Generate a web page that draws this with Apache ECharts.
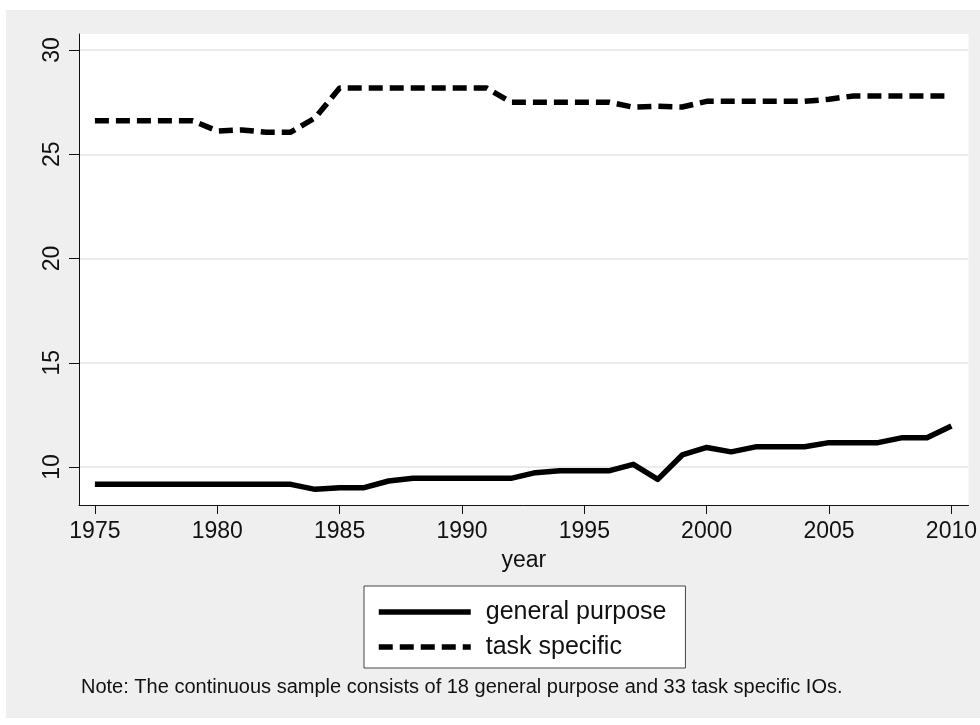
<!DOCTYPE html>
<html>
<head>
<meta charset="utf-8">
<script src="https://cdn.jsdelivr.net/npm/echarts@6/dist/echarts.min.js"></script>
<style>
  body { margin: 0; background: #fff; }
  #bg { position: absolute; left: 6px; top: 10px; width: 974px; height: 708px; background: #efefef; }
  #main { position: absolute; left: 0; top: 0; width: 980px; height: 725px; }
</style>
</head>
<body>
<div id="bg"></div>
<div id="main"></div>
<script>
const years = [];
for (let y = 1975; y <= 2010; y++) years.push(y);

const generalPurpose = [
  9.17, 9.17, 9.17, 9.17, 9.17, 9.17, 9.17, 9.17, 9.17, 8.93,
  9.01, 9.01, 9.33, 9.46, 9.46, 9.46, 9.46, 9.46, 9.73, 9.82,
  9.82, 9.82, 10.13, 9.41, 10.58, 10.94, 10.73, 10.97, 10.97, 10.97,
  11.17, 11.17, 11.17, 11.41, 11.41, 11.97
];
const taskSpecific = [
  26.61, 26.61, 26.61, 26.61, 26.61, 26.12, 26.17, 26.06, 26.06, 26.75,
  28.18, 28.18, 28.18, 28.18, 28.18, 28.18, 28.18, 27.5, 27.5, 27.5,
  27.5, 27.5, 27.26, 27.3, 27.27, 27.54, 27.54, 27.54, 27.54, 27.54,
  27.64, 27.8, 27.8, 27.8, 27.8, 27.8
];
const xTicks = [1975, 1980, 1985, 1990, 1995, 2000, 2005, 2010];
const yTicks = [10, 15, 20, 25, 30];
const noteText = 'Note: The continuous sample consists of 18 general purpose and 33 task specific IOs.';

const font = '"Liberation Sans", Arial, Helvetica, sans-serif';
const chart = echarts.init(document.getElementById('main'));

const pairs = (vals) => years.map((y, i) => [y, vals[i]]);

chart.setOption({
  animation: false,
  textStyle: { fontFamily: font, color: '#111' },
  grid: {
    left: 79, top: 34, right: 8, bottom: 220,
    show: true, backgroundColor: '#fff', borderWidth: 0
  },
  xAxis: {
    type: 'value',
    min: 1974.35,
    max: 2010.7,
    name: 'year',
    nameLocation: 'middle',
    nameGap: 44,
    nameTextStyle: { fontSize: 23, color: '#111', fontFamily: font },
    axisLine: { lineStyle: { color: '#111', width: 1 } },
    axisTick: { show: true, length: 9, lineStyle: { color: '#111' }, customValues: xTicks },
    axisLabel: {
      customValues: xTicks, fontSize: 23, color: '#111', margin: 15, fontFamily: font,
      formatter: (v) => String(v)
    },
    splitLine: { show: false }
  },
  yAxis: {
    type: 'value',
    min: 8.18,
    max: 30.77,
    axisLine: { show: true, lineStyle: { color: '#111', width: 1 } },
    axisTick: { show: true, length: 10, lineStyle: { color: '#111' }, customValues: yTicks },
    axisLabel: { customValues: yTicks, rotate: 90, fontSize: 23, color: '#111', margin: 15, fontFamily: font },
    splitLine: { show: true, lineStyle: { color: '#e4e4e4', width: 1.5 } }
  },
  legend: {
    orient: 'vertical',
    left: 364,
    top: 586,
    backgroundColor: '#fff',
    borderColor: '#444',
    borderWidth: 1,
    borderRadius: 0,
    padding: [11, 19, 6, 12],
    itemWidth: 92,
    itemHeight: 20,
    itemGap: 5,
    itemStyle: { opacity: 0 },
    lineStyle: { width: 5.5 },
    textStyle: { fontSize: 25, color: '#111', lineHeight: 30, padding: [0, 0, 0, 10], fontFamily: font },
    data: ['general purpose', 'task specific']
  },
  graphic: [{
    type: 'text',
    left: 81,
    top: 677,
    style: { text: noteText, fontSize: 20, fill: '#111', fontFamily: font }
  }],
  series: [
    {
      name: 'general purpose',
      type: 'line',
      symbol: 'none',
      data: pairs(generalPurpose),
      lineStyle: { color: '#000', width: 5.5, join: 'round' },
      itemStyle: { color: '#000' }
    },
    {
      name: 'task specific',
      type: 'line',
      symbol: 'none',
      data: pairs(taskSpecific),
      lineStyle: { color: '#000', width: 5.5, type: [14, 7] },
      itemStyle: { color: '#000' }
    }
  ]
});
</script>
</body>
</html>
